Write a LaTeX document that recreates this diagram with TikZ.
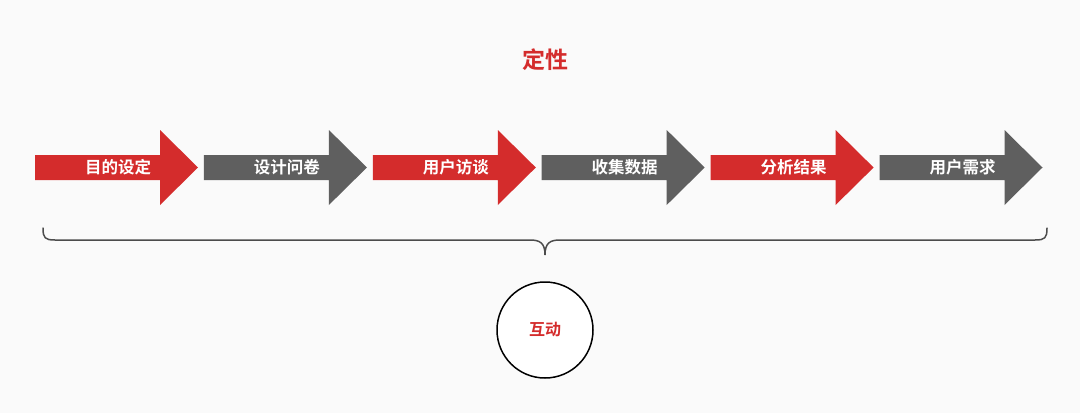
\documentclass[tikz,border=0pt]{standalone}
\usepackage{fontspec}
\newfontfamily\cjk{Noto Sans CJK SC}[BoldFont={Noto Sans CJK SC Bold}]
\definecolor{cred}{RGB}{212,44,44}
\definecolor{cgray}{RGB}{95,95,95}
\definecolor{bg}{RGB}{250,250,250}
\begin{document}
\begin{tikzpicture}[x=1pt,y=-1pt,
  lbl/.style={font=\cjk\bfseries\fontsize{16.5}{18}\selectfont,text=white},
  ttl/.style={font=\cjk\bfseries\fontsize{23}{26}\selectfont,text=cred}]
\fill[bg] (0,0) rectangle (1080,413);
\useasboundingbox (0,0) rectangle (1080,413);
\node[ttl] (title) at (545,60) {定性};
\foreach \i/\c/\t in {0/cred/目的设定,1/cgray/设计问卷,2/cred/用户访谈,3/cgray/收集数据,4/cred/分析结果,5/cgray/用户需求}{
  \pgfmathsetmacro{\xa}{35+168.9*\i}
  \fill[\c] (\xa,155) -- (\xa+125,155) -- (\xa+125,130) -- (\xa+163,167.5) -- (\xa+125,205) -- (\xa+125,180) -- (\xa,180) -- cycle;
  \node[lbl] (a\i) at (\xa+83,167.5) {\t};
}
\draw[line width=1.5pt,cgray!80!black,line cap=round]
  (43,228) .. controls (43,238) and (45,240) .. (55,240) -- (530,240)
  .. controls (540,240) and (545,243) .. (545,255)
  .. controls (545,243) and (550,240) .. (560,240) -- (1035,240)
  .. controls (1045,240) and (1047,238) .. (1047,228);
\node[circle,draw=black,line width=1.5pt,fill=white,minimum size=96pt,
  font=\cjk\bfseries\fontsize{16}{18}\selectfont,text=cred] (hd) at (545,330) {互动};
\end{tikzpicture}
\end{document}
